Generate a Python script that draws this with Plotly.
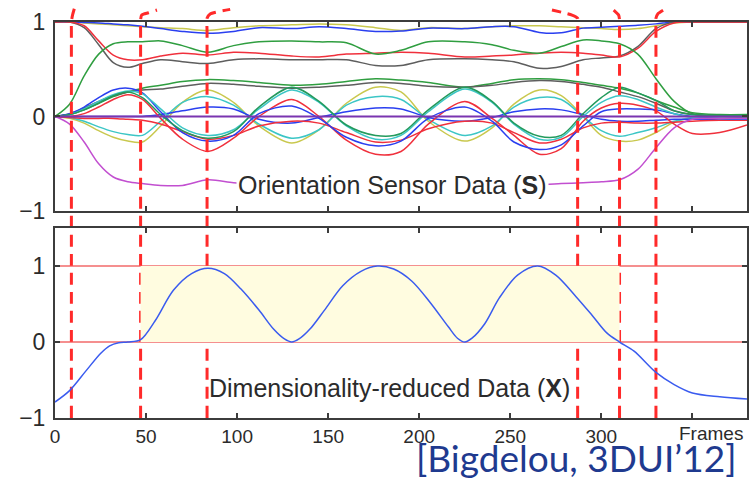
import plotly.graph_objects as go

# ---------------- data ----------------
frames = [0, 8, 16, 24, 32, 40, 48, 58, 70, 84, 98, 112, 130, 145, 160, 176, 190, 205,
          225, 240, 252, 266, 278, 290, 300, 310, 320, 330, 340, 350, 365, 380]

yellow_top = [1.0, 1.0, 0.99, 0.98, 0.97, 0.96, 0.95, 0.94, 0.93, 0.91, 0.94, 0.96, 0.97, 0.98, 0.97, 0.94,
              0.91, 0.94, 0.93, 0.95, 0.96, 0.96, 0.95, 0.94, 0.93, 0.92, 0.93, 0.96, 0.99, 1.0, 1.0, 1.0]
blue_top = [1.0, 1.0, 0.995, 0.99, 0.98, 0.97, 0.955, 0.93, 0.9, 0.88, 0.9, 0.94, 0.93, 0.95, 0.93, 0.9,
            0.905, 0.935, 0.93, 0.95, 0.95, 0.89, 0.885, 0.935, 0.945, 0.955, 0.965, 0.98, 1.0, 1.0, 1.0, 1.0]
gray_top = [1.0, 1.0, 0.94, 0.76, 0.57, 0.52, 0.56, 0.6, 0.58, 0.56, 0.6, 0.61, 0.6, 0.6, 0.6, 0.54,
            0.54, 0.6, 0.61, 0.6, 0.58, 0.51, 0.53, 0.6, 0.62, 0.64, 0.74, 0.93, 1.0, 1.0, 1.0, 1.0]
red_top = [1.0, 1.0, 0.96, 0.8, 0.65, 0.6, 0.6, 0.64, 0.67, 0.65, 0.68, 0.67, 0.64, 0.63, 0.66, 0.67,
           0.68, 0.67, 0.63, 0.64, 0.65, 0.67, 0.68, 0.67, 0.65, 0.63, 0.72, 0.9, 0.99, 1.0, 1.0, 1.0]
green_top = [0.0, 0.13, 0.43, 0.66, 0.77, 0.79, 0.79, 0.8, 0.75, 0.68, 0.75, 0.79, 0.8, 0.79, 0.78, 0.66,
             0.7, 0.79, 0.79, 0.76, 0.7, 0.67, 0.74, 0.81, 0.8, 0.77, 0.66, 0.4, 0.16, 0.03, 0.01, 0.01]
green_mid = [0.0, 0.02, 0.07, 0.14, 0.21, 0.26, 0.3, 0.33, 0.37, 0.39, 0.38, 0.36, 0.33, 0.34, 0.37, 0.4,
             0.385, 0.36, 0.31, 0.35, 0.39, 0.4, 0.39, 0.36, 0.33, 0.3, 0.25, 0.17, 0.1, 0.04, 0.02, 0.02]
gray_mid = [0.0, 0.03, 0.09, 0.16, 0.22, 0.26, 0.28, 0.29, 0.32, 0.35, 0.34, 0.32, 0.3, 0.31, 0.33, 0.36,
            0.35, 0.32, 0.31, 0.33, 0.36, 0.38, 0.37, 0.34, 0.31, 0.26, 0.21, 0.14, 0.06, 0.02, 0.0, -0.01]
green_osc = [0.0, 0.02, 0.07, 0.14, 0.22, 0.26, 0.2, 0.02, -0.15, -0.23, -0.16, 0.1, 0.31, 0.16, -0.09, -0.2,
             -0.18, 0.07, 0.31, 0.16, -0.07, -0.21, -0.2, 0.03, 0.2, 0.31, 0.25, 0.17, 0.06, 0.02, 0.01, 0.01]
cyan_osc = [0.0, 0.02, 0.08, 0.16, 0.23, 0.27, 0.24, 0.08, -0.12, -0.2, -0.14, 0.08, 0.28, 0.15, -0.1, -0.24,
            -0.2, 0.05, 0.29, 0.15, -0.08, -0.24, -0.22, 0.0, 0.15, 0.22, 0.18, 0.1, 0.03, -0.01, -0.02, -0.02]
blue_osc = [0.0, 0.03, 0.1, 0.2, 0.28, 0.3, 0.25, 0.05, -0.17, -0.26, -0.2, 0.03, 0.11, -0.02, -0.22, -0.31,
            -0.26, -0.02, 0.1, -0.05, -0.27, -0.35, -0.3, -0.1, 0.05, 0.08, 0.08, 0.07, 0.03, 0.0, -0.02, -0.03]
red_osc = [0.0, 0.0, 0.03, 0.1, 0.18, 0.23, 0.18, -0.02, -0.24, -0.37, -0.23, 0.0, 0.18, 0.0, -0.25, -0.4,
           -0.37, -0.08, 0.16, -0.02, -0.2, -0.4, -0.34, -0.05, 0.09, 0.14, 0.12, 0.06, -0.08, -0.18, -0.17, -0.09]
red_small = [0.0, -0.01, -0.02, -0.02, -0.02, -0.03, -0.04, -0.08, -0.16, -0.24, -0.2, -0.1, -0.05, -0.07, -0.17, -0.27,
             -0.25, -0.13, -0.05, -0.07, -0.17, -0.28, -0.24, -0.12, -0.07, -0.06, -0.07, -0.07, -0.06, -0.05, -0.04, -0.04]
yellow_osc = [0.0, -0.02, -0.07, -0.15, -0.22, -0.26, -0.27, -0.1, 0.15, 0.28, 0.15, -0.1, -0.28, -0.14, 0.14, 0.31,
              0.26, -0.05, -0.26, -0.12, 0.13, 0.28, 0.22, 0.0, -0.2, -0.26, -0.25, -0.17, -0.06, -0.01, 0.0, 0.0]
cyan_anti = [0.0, -0.01, -0.05, -0.11, -0.16, -0.19, -0.2, -0.05, 0.15, 0.21, 0.12, -0.08, -0.23, -0.14, 0.12, 0.21,
             0.18, -0.03, -0.2, -0.1, 0.1, 0.2, 0.18, 0.0, -0.15, -0.21, -0.17, -0.12, -0.05, -0.02, -0.02, -0.02]
blue_small = [0.0, 0.0, 0.0, 0.0, 0.0, 0.0, 0.0, 0.02, 0.06, 0.1, 0.08, -0.03, -0.07, -0.01, 0.05, 0.09,
              0.08, -0.01, -0.05, -0.01, 0.05, 0.08, 0.07, 0.02, -0.03, -0.05, -0.05, -0.04, -0.03, -0.03, -0.03, -0.03]
magenta = [0.0, -0.08, -0.27, -0.5, -0.64, -0.69, -0.71, -0.73, -0.73, -0.67, -0.7, -0.72, -0.72, -0.72, -0.72, -0.72,
           -0.72, -0.72, -0.72, -0.72, -0.72, -0.72, -0.71, -0.7, -0.69, -0.67, -0.56, -0.33, -0.12, -0.03, -0.02, -0.02]
purple_f = [0, 380]
purple = [0.0, 0.0]

x_frames = [0, 8, 17, 25, 30, 35, 40, 47, 55, 65, 75, 84, 93, 102, 112, 120, 126, 130, 134, 140, 148, 158, 168,
            177, 186, 196, 206, 216, 221, 225, 229, 236, 244, 254, 265, 275, 286, 295, 303, 310, 318, 330, 340,
            350, 365, 380]
x_reduced = [-0.79, -0.64, -0.38, -0.15, -0.05, -0.01, 0.0, 0.03, 0.28, 0.68, 0.9, 0.97, 0.9, 0.7, 0.42, 0.17, 0.04,
             0.0, 0.04, 0.17, 0.42, 0.74, 0.93, 1.0, 0.96, 0.8, 0.52, 0.2, 0.05, 0.0, 0.05, 0.24, 0.58, 0.88, 1.0,
             0.88, 0.6, 0.35, 0.12, 0.0, -0.12, -0.4, -0.56, -0.67, -0.72, -0.75]

# segment boundaries (frames)
dash_frames = [9, 47, 83.5, 287, 310, 330]
# curled tops of the boundary lines (frame, value in top-panel units)
curl_f = [[9.6, 10.6], [47.6, 51.3, 56.0], [85.2, 89.7, 96.2], [283.9, 279.3, 272.9], [309.5, 306.8], [331.0, 334.2]]
curl_v = [[1.07, 1.14], [1.074, 1.098, 1.127], [1.085, 1.11, 1.134], [1.074, 1.098, 1.127], [1.074, 1.127], [1.085, 1.127]]
curl_start = [1.0, 1.02, 1.04, 1.04, 1.02, 1.04]

x_ticks = [0, 50, 100, 150, 200, 250, 300, 350]
x_ticktext = ["0", "50", "100", "150", "200", "250", "300", ""]
y_ticks = [-1, 0, 1]

top_series = [
    (yellow_top, "#c9c84e"), (blue_top, "#2a3ff0"), (gray_top, "#5e5e5e"), (red_top, "#f0303c"),
    (green_top, "#2f9e40"), (green_mid, "#2f9e40"), (gray_mid, "#5e5e5e"),
    (yellow_osc, "#c9c84e"), (cyan_anti, "#3cc6c6"), (blue_small, "#2a3ff0"), (red_small, "#f0303c"),
    (red_osc, "#f0303c"), (blue_osc, "#2a3ff0"), (cyan_osc, "#3cc6c6"), (green_osc, "#239a5c"),
    (magenta, "#c24fd0"),
]

FONT = "Liberation Sans, Arial, sans-serif"
AXC = "#3c3c3c"

fig = go.Figure()
for vals, col in top_series:
    fig.add_trace(go.Scatter(x=frames, y=vals, mode="lines", xaxis="x", yaxis="y",
                             line=dict(color=col, width=1.5, shape="spline", smoothing=0.9),
                             showlegend=False, hoverinfo="skip"))
fig.add_trace(go.Scatter(x=purple_f, y=purple, mode="lines", xaxis="x", yaxis="y",
                         line=dict(color="#7a35b0", width=2.2), showlegend=False, hoverinfo="skip"))

fig.add_trace(go.Scatter(x=x_frames, y=x_reduced, mode="lines", xaxis="x2", yaxis="y2",
                         line=dict(color="#3a5bef", width=1.5, shape="spline", smoothing=0.9),
                         showlegend=False, hoverinfo="skip"))

Y3_RANGE = [-3.19, 1.233]
for f, cf, cv, cs in zip(dash_frames, curl_f, curl_v, curl_start):
    xs = [f, f, f] + cf
    ys = [Y3_RANGE[0], 0.9, cs] + cv
    fig.add_trace(go.Scatter(x=xs, y=ys, mode="lines", xaxis="x", yaxis="y3",
                             line=dict(color="#ff2a2a", width=3, dash="12px,7px", shape="spline", smoothing=0.6),
                             showlegend=False, hoverinfo="skip"))

# highlighted band in lower panel
fig.add_shape(type="rect", xref="x2", yref="y2", x0=dash_frames[1], x1=dash_frames[4], y0=0, y1=1,
              fillcolor="#fffce0", line=dict(width=0), layer="below")
for yv in [0, 1]:
    fig.add_shape(type="line", xref="x2 domain", yref="y2", x0=0, x1=1, y0=yv, y1=yv,
                  line=dict(color="#f26a6a", width=1.5), layer="below")

axis_common = dict(showline=True, linecolor=AXC, linewidth=2, mirror="ticks", ticks="inside",
                   ticklen=5, tickwidth=1.5, tickcolor=AXC, showgrid=False, zeroline=False,
                   automargin=False, tickfont=dict(family=FONT, size=19, color="#2b2b2b"))
ytick_font = dict(family=FONT, size=23, color="#2b2b2b")

fig.update_layout(
    width=751, height=481, margin=dict(l=55, r=4, t=0, b=63, autoexpand=False),
    paper_bgcolor="white", plot_bgcolor="rgba(0,0,0,0)",
    xaxis=dict(domain=[0, 1], anchor="y", range=[0, 380], tickvals=x_ticks[1:],
               showticklabels=False, **axis_common),
    xaxis2=dict(domain=[0, 1], anchor="y2", range=[0, 380], matches="x", tickvals=x_ticks,
                ticktext=x_ticktext, ticklabelstandoff=0, **axis_common),
    yaxis=dict(domain=[0.4952, 0.9474], anchor="x", range=[-1, 1], tickvals=y_ticks,
               **{**axis_common, "tickfont": ytick_font}, ticklabelstandoff=3),
    yaxis2=dict(domain=[0, 0.4545], anchor="x2", range=[-1, 1.5], tickvals=y_ticks,
                **{**axis_common, "tickfont": ytick_font}, ticklabelstandoff=3),
    yaxis3=dict(domain=[0, 1], anchor="x", range=Y3_RANGE, visible=False, fixedrange=True,
                automargin=False),
)

fig.add_annotation(text="Orientation Sensor Data (<b>S</b>)", xref="x", yref="y", x=99.5, y=-0.725,
                   xanchor="left", yanchor="middle", showarrow=False, bgcolor="white", borderpad=1,
                   font=dict(family=FONT, size=25, color="#2b2b2b"))
fig.add_annotation(text="Dimensionality-reduced Data (<b>X</b>)", xref="x2", yref="y2", x=83.5, y=-0.6,
                   xanchor="left", yanchor="middle", showarrow=False,
                   font=dict(family=FONT, size=25, color="#2b2b2b"))
fig.add_annotation(text="Frames", xref="x2", yref="paper", x=379, y=-0.038,
                   xanchor="right", yanchor="middle", showarrow=False,
                   font=dict(family=FONT, size=19, color="#2b2b2b"))
fig.add_annotation(text="[Bigdelou, 3DUI’12]", xref="paper", yref="paper", x=0.987, y=-0.1507,
                   xanchor="right", yanchor="bottom", showarrow=False, borderpad=0,
                   font=dict(family="Lato, sans-serif", size=37, color="#1f3a8f"))

fig.write_html("out.html")
